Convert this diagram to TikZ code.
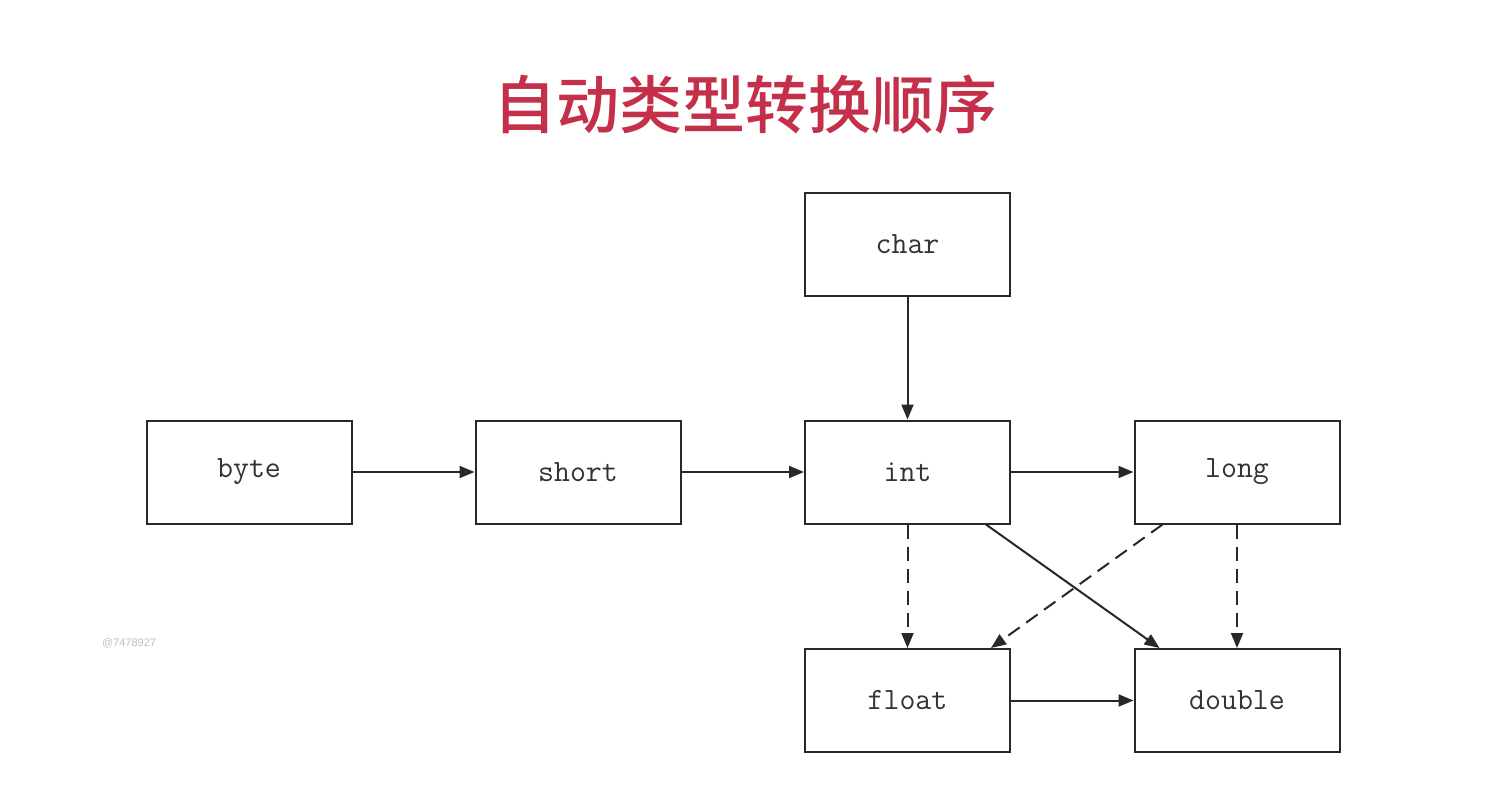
\documentclass[tikz,border=0pt]{standalone}
\usepackage{fontspec}
\newfontfamily\cjk{Noto Sans CJK SC Medium}
\newfontfamily\wmfont{Liberation Sans}
\usetikzlibrary{arrows.meta,calc}
\definecolor{titlered}{RGB}{196,48,74}
\definecolor{linegray}{RGB}{40,40,40}
\begin{document}
\begin{tikzpicture}[x=1pt,y=-1pt,
  typebox/.style={draw=linegray,line width=2pt,minimum width=205pt,minimum height=103pt,inner sep=0pt,
    font=\fontsize{31}{35}\selectfont\ttfamily,text=black!80},
  conn/.style={draw=linegray,line width=2pt,-{Triangle[length=15pt,width=12pt]}},
  dconn/.style={conn,dash pattern=on 14pt off 8pt}]
\useasboundingbox (0,0) rectangle (1494,792);
\fill[white] (0,0) rectangle (1494,792);
\node[font=\cjk\fontsize{63}{70}\selectfont,text=titlered] (title) at (745,104) {自动类型转换顺序};
\node[font=\wmfont\fontsize{11}{13}\selectfont,text=black!25] (wm) at (129,643) {@7478927};
\node[typebox] (char) at (907.5,244) {char};
\node[typebox] (byte) at (249,472) {byte};
\node[typebox] (short) at (578,472) {short};
\node[typebox] (int) at (907.5,472) {int};
\node[typebox] (long) at (1237,472) {long};
\node[typebox] (float) at (907.5,700.5) {float};
\node[typebox] (double) at (1237,700.5) {double};
\draw[conn] (char) -- (int);
\draw[conn] (byte) -- (short);
\draw[conn] (short) -- (int);
\draw[conn] (int) -- (long);
\draw[conn] (float) -- (double);
\draw[dconn] (int) -- (float);
\draw[dconn] (long) -- (double);
\draw[conn] ($(int.south east)+(-25pt,0)$) -- ($(double.north west)+(26pt,0)$);
\draw[dconn] ($(long.south west)+(29pt,0)$) -- ($(float.north east)+(-20pt,0)$);
\end{tikzpicture}
\end{document}
